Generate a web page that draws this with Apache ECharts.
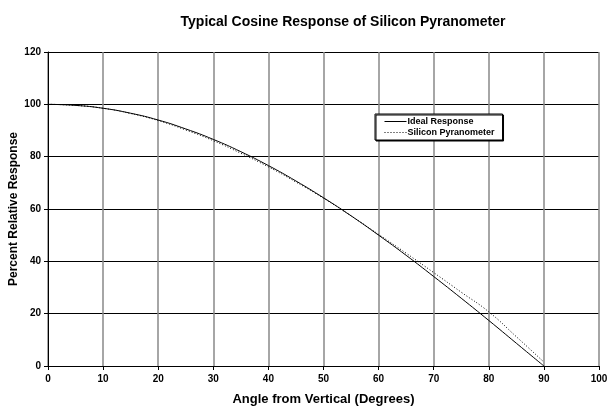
<!DOCTYPE html>
<html>
<head>
    <meta charset="utf-8">
    <title>ECharts</title>
    <script src="https://cdn.jsdelivr.net/npm/echarts@6/dist/echarts.min.js"></script>
</head>
<body style="margin:0">
<div id="main" style="width: 608px;height:409px;"></div>
<script type="text/javascript">
// angles, every 5 degrees
var angles = [0, 5, 10, 15, 20, 25, 30, 35, 40, 45, 50, 55, 60, 65, 70, 75, 80, 85, 90];
var idealResponse = [100, 99.6, 98.5, 96.6, 94.0, 90.6, 86.6, 81.9, 76.6, 70.7, 64.3, 57.4, 50.0, 42.3, 34.2, 25.9, 17.4, 8.7, 0];
var siliconResponse = [100, 99.6, 98.5, 96.5, 93.8, 90.2, 86.1, 81.3, 76.1, 70.3, 64.1, 57.4, 50.3, 43.1, 35.7, 28.2, 20.7, 11.2, 1.5];
var xTicks = [0, 100, 10];
var yTicks = [0, 120, 20];

function pairs(xs, ys) {
    return xs.map(function (x, i) { return [x, ys[i]]; });
}

var font = 'Liberation Sans, Arial, sans-serif';
var myChart = echarts.init(document.getElementById('main'));

myChart.setOption({
    backgroundColor: '#fff',
    animation: false,
    title: {
        text: 'Typical Cosine Response of Silicon Pyranometer',
        left: 338,
        textAlign: 'center',
        top: 10,
        textStyle: { fontFamily: font, fontSize: 14, fontWeight: 'bold', color: '#000' }
    },
    legend: {
        orient: 'vertical',
        left: 375,
        top: 114,
        itemGap: 2,
        itemWidth: 22,
        itemHeight: 8,
        padding: [3, 8, 3, 9],
        borderColor: '#000',
        borderWidth: 1,
        backgroundColor: '#fff',
        shadowColor: '#000',
        shadowOffsetX: 1,
        shadowOffsetY: 1,
        shadowBlur: 0,
        itemStyle: { opacity: 0 },
        lineStyle: { width: 1 },
        textStyle: { fontFamily: font, fontSize: 9, fontWeight: 'bold', color: '#000', padding: [0, 0, 0, -4] },
        data: ['Ideal Response', 'Silicon Pyranometer']
    },
    grid: { left: 48, right: 9, top: 52, bottom: 43, outerBoundsMode: 'none', containLabel: false },
    xAxis: {
        type: 'value',
        min: xTicks[0], max: xTicks[1], interval: xTicks[2],
        name: 'Angle from Vertical (Degrees)',
        nameLocation: 'middle',
        nameGap: 27,
        nameMoveOverlap: false,
        nameTextStyle: { fontFamily: font, fontSize: 13, fontWeight: 'bold', color: '#000' },
        axisLine: { lineStyle: { color: '#000', width: 1 } },
        axisTick: { length: 4, lineStyle: { color: '#000' } },
        axisLabel: { fontFamily: font, fontSize: 10, fontWeight: 'bold', color: '#000', margin: 8 },
        splitLine: { show: true, lineStyle: { color: '#888', width: 1.5 } }
    },
    yAxis: {
        type: 'value',
        min: yTicks[0], max: yTicks[1], interval: yTicks[2],
        name: 'Percent Relative Response',
        nameLocation: 'middle',
        nameGap: 28,
        nameMoveOverlap: false,
        nameTextStyle: { fontFamily: font, fontSize: 12, fontWeight: 'bold', color: '#000' },
        axisLine: { show: true, lineStyle: { color: '#000', width: 1 } },
        axisTick: { show: true, length: 4, lineStyle: { color: '#000' } },
        axisLabel: { fontFamily: font, fontSize: 10, fontWeight: 'bold', color: '#000', margin: 7 },
        splitLine: { show: true, lineStyle: { color: '#000', width: 1 } }
    },
    series: [
        {
            name: 'Ideal Response',
            type: 'line',
            symbol: 'none',
            smooth: true,
            lineStyle: { color: '#000', width: 1, type: 'solid' },
            itemStyle: { color: '#000' },
            data: pairs(angles, idealResponse)
        },
        {
            name: 'Silicon Pyranometer',
            type: 'line',
            symbol: 'none',
            smooth: true,
            lineStyle: { color: '#000', width: 1, type: [1, 2] },
            itemStyle: { color: '#000' },
            data: pairs(angles, siliconResponse)
        }
    ]
});
</script>
</body>
</html>
